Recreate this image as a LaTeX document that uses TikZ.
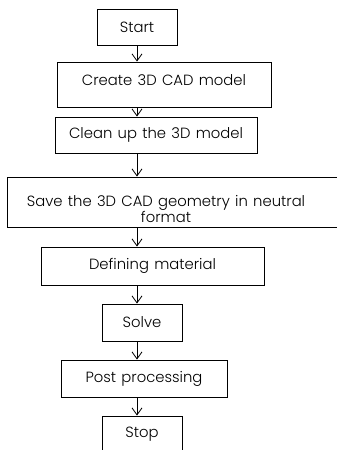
\documentclass[tikz,border=0pt]{standalone}
\usepackage{fontspec}
\setmainfont{Poppins}[UprightFont=* Light, WordSpace=1.3]
\usetikzlibrary{arrows.meta}
\begin{document}
\begin{tikzpicture}[x=1pt,y=-1pt,
  txt/.style={inner sep=0pt, align=center, font=\fontsize{14.8}{15}\selectfont},
  box/.style={txt, draw=black, line width=0.9pt},
  arr/.style={draw=black, line width=0.8pt, -{Straight Barb[length=7pt,width=10pt]}}]
\useasboundingbox (0,0) rectangle (337,450);
\clip (0,0) rectangle (337,450);
\node[box, minimum width=80pt, minimum height=36pt] (start) at (137,27) {Start};
\node[box, minimum width=214pt, minimum height=45pt] (create) at (164,84.5) {\raisebox{4.5pt}[\height][\depth]{Create 3D CAD model}};
\node[box, minimum width=202pt, minimum height=36pt] (clean) at (156,135) {Clean up the 3D model};
\node[box, minimum width=338pt, minimum height=50pt] (save) at (176,202) {};
\node[txt] (savetext) at (166,209) {Save the 3D CAD geometry in neutral\\format};
\node[box, minimum width=223pt, minimum height=38pt] (define) at (152.5,266) {Defining material};
\node[box, minimum width=80pt, minimum height=37pt] (solve) at (142,322.5) {Solve};
\node[box, minimum width=166pt, minimum height=37pt] (post) at (144,378.5) {Post processing};
\node[box, minimum width=80pt, minimum height=36pt] (stop) at (142,434) {Stop};
\coordinate (ax) at (137,0);
\draw[arr] (start.south -| ax) -- (create.north -| ax);
\draw[arr] (create.south -| ax) -- (clean.north -| ax);
\draw[arr] (clean.south -| ax) -- (save.north -| ax);
\draw[arr] (save.south -| ax) -- (define.north -| ax);
\draw[arr] (define.south -| ax) -- (solve.north -| ax);
\draw[arr] (solve.south -| ax) -- (post.north -| ax);
\draw[arr] (post.south -| ax) -- (stop.north -| ax);
\end{tikzpicture}
\end{document}
